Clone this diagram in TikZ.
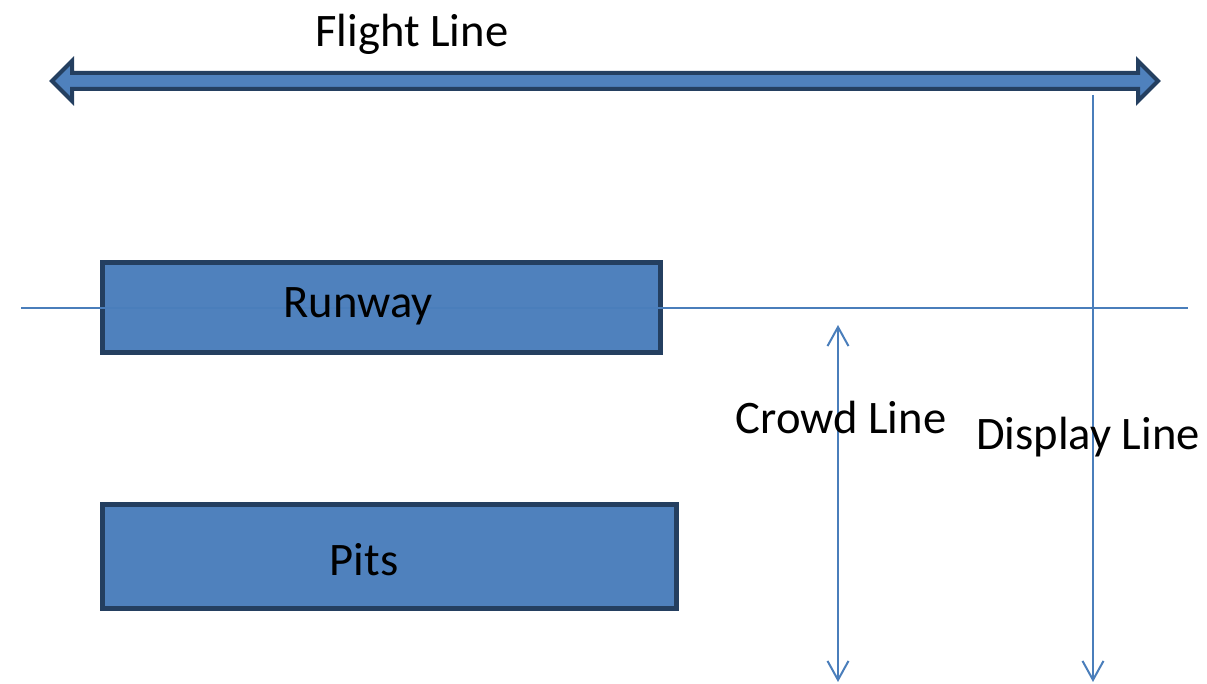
\documentclass[tikz,border=0pt]{standalone}
\usepackage{fontspec}
\setmainfont{Carlito}
\usepackage{tikz}
\usetikzlibrary{arrows.meta}
\definecolor{boxfill}{HTML}{4F81BD}
\definecolor{boxedge}{HTML}{243F60}
\definecolor{thinline}{HTML}{4A7EBB}
\tikzstyle{area} = [draw=boxedge, fill=boxfill, line width=2.5pt]
\tikzstyle{label} = [font=\fontsize{23.3}{28}\selectfont, anchor=base, inner sep=0pt]
\tikzstyle{thin} = [draw=thinline, line width=1pt]

\begin{document}
\begin{tikzpicture}[x=0.5pt, y=-0.5pt]
    \useasboundingbox (0,0) rectangle (1207,684);

    % Flight line
    \draw [area, line width=2pt, line join=miter]
        (52,81) -- (72,61) -- (72,73) -- (1138,73) -- (1138,61) -- (1158,81)
        -- (1138,101) -- (1138,89) -- (72,89) -- (72,101) -- cycle;
    \node [label] (FL) at (412,47) {Flight Line};

    % Areas
    \node [area, minimum width=279pt, minimum height=45pt, inner sep=0pt] (Rw) at (381,308) {};
    \node [area, minimum width=287pt, minimum height=52pt, inner sep=0pt] (Pt) at (389.5,557) {};

    % Lines
    \coordinate (HL1) at (21,308);
    \coordinate (HL2) at (1188,308);
    \path [thin] (HL1) -- (HL2);

    \coordinate (CL1) at (838,325);
    \coordinate (CL2) at (838,682);
    \path [thin, {Straight Barb[length=9.5pt, width=10.5pt]}-{Straight Barb[length=9.5pt, width=10.5pt]}] (CL1) -- (CL2);

    \coordinate (DL1) at (1093,95);
    \coordinate (DL2) at (1093,682);
    \path [thin, -{Straight Barb[length=9.5pt, width=10.5pt]}] (DL1) -- (DL2);

    % Labels
    \node [label] (RwT) at (358,318) {Runway};
    \node [label] (PtT) at (364,576) {Pits};
    \node [label] (CLT) at (841,434) {Crowd Line};
    \node [label] (DLT) at (1088,450) {Display Line};

\end{tikzpicture}
\end{document}
